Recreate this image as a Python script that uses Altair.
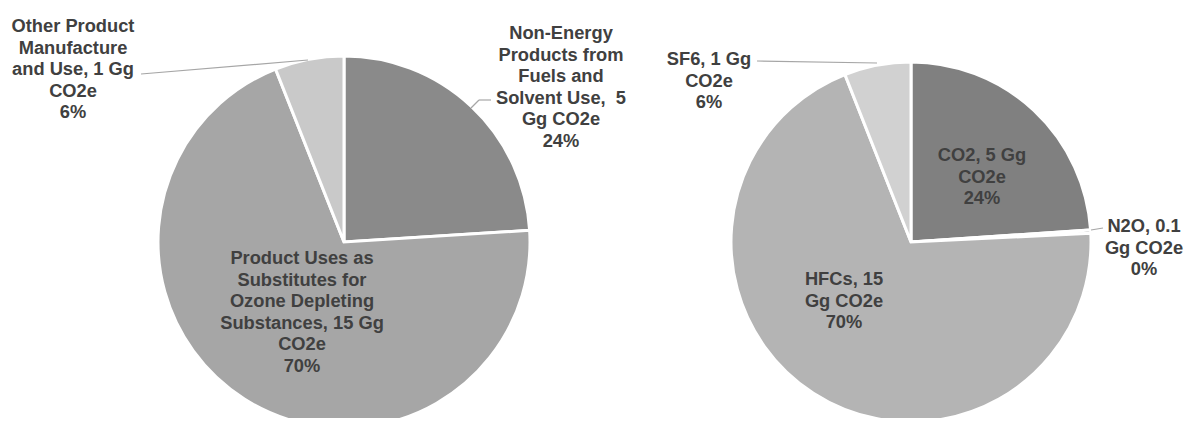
import altair as alt
import pandas as pd

# ---------------- data ----------------
left_categories = [
    "Non-Energy Products from Fuels and Solvent Use",
    "Product Uses as Substitutes for Ozone Depleting Substances",
    "Other Product Manufacture and Use",
]
left_shares = [24, 70, 6]  # percent of total
left_labels = [
    "Non-Energy\nProducts from\nFuels and\nSolvent Use,\u00a0 5\nGg CO2e\n24%",
    "Product Uses as\nSubstitutes for\nOzone Depleting\nSubstances, 15 Gg\nCO2e\n70%",
    "Other Product\nManufacture\nand Use, 1 Gg\nCO2e\n6%",
]

right_categories = ["CO2", "N2O", "HFCs", "SF6"]
right_shares = [24, 0.3, 70, 6]  # percent of total
right_labels = [
    "CO2, 5 Gg\nCO2e\n24%",
    "N2O, 0.1\nGg CO2e\n0%",
    "HFCs, 15\nGg CO2e\n70%",
    "SF6, 1 Gg\nCO2e\n6%",
]

# ---------------- layout / style ----------------
W, H = 1176, 410
OFF = 8  # page margin
left_center = (344 - OFF, 242 - OFF)
left_radius = 186
right_center = (911 - OFF, 242 - OFF)
right_radius = 180

left_colors = ["#8a8a8a", "#a6a6a6", "#c9c9c9"]
right_colors = ["#808080", "#969696", "#b4b4b4", "#d1d1d1"]

# label anchor positions (image coords: centre x, first-line y)
left_label_pos = [(561, 34), (302, 259), (73, 27)]
right_label_pos = [(982, 156), (1144, 227), (844, 280), (709, 60)]

# leader lines (image coords)
leaders = [
    (141, 74, 308, 60),
    (491, 100, 479, 100),
    (479, 100, 471, 108),
    (757, 61, 877, 63),
    (1103, 228, 1091, 230),
]

FONT = "Liberation Sans"
TEXT_COLOR = "#404040"

# ---------------- tables ----------------
left_df = pd.DataFrame({"cat": left_categories, "share": left_shares,
                        "idx": list(range(len(left_categories)))})
right_df = pd.DataFrame({"cat": right_categories, "share": right_shares,
                         "idx": list(range(len(right_categories)))})

label_df = pd.DataFrame({
    "label": left_labels + right_labels,
    "x": [p[0] - OFF for p in left_label_pos + right_label_pos],
    "y": [p[1] - OFF for p in left_label_pos + right_label_pos],
})
leader_df = pd.DataFrame({
    "x": [l[0] - OFF for l in leaders],
    "y": [l[1] - OFF for l in leaders],
    "x2": [l[2] - OFF for l in leaders],
    "y2": [l[3] - OFF for l in leaders],
})


def pie(df, center, radius, cats, colors):
    return alt.Chart(df).mark_arc(
        radius=radius, stroke="white", strokeWidth=3
    ).encode(
        theta=alt.Theta("share:Q", stack=True),
        order=alt.Order("idx:Q"),
        color=alt.Color("cat:N", scale=alt.Scale(domain=cats, range=colors), legend=None),
        x=alt.value(center[0]),
        y=alt.value(center[1]),
    )


left_pie = pie(left_df, left_center, left_radius, left_categories, left_colors)
right_pie = pie(right_df, right_center, right_radius, right_categories, right_colors)

leader_layer = alt.Chart(leader_df).mark_rule(color="#a6a6a6", strokeWidth=1.2).encode(
    x=alt.X("x:Q", scale=None),
    y=alt.Y("y:Q", scale=None),
    x2="x2:Q",
    y2="y2:Q",
)

text_layer = alt.Chart(label_df).mark_text(
    font=FONT, fontSize=18.3, fontWeight="bold", color=TEXT_COLOR,
    lineBreak="\n", lineHeight=21.5, align="center", baseline="middle",
).encode(
    x=alt.X("x:Q", scale=None),
    y=alt.Y("y:Q", scale=None),
    text="label:N",
)

chart = alt.layer(left_pie, right_pie, leader_layer, text_layer).resolve_scale(
    theta="independent", color="independent"
).properties(
    width=W, height=H, padding=0, autosize=alt.AutoSizeParams(type="none")
).configure_view(stroke=None)

chart.save("out.html", embed_options={"renderer": "svg", "actions": False})
